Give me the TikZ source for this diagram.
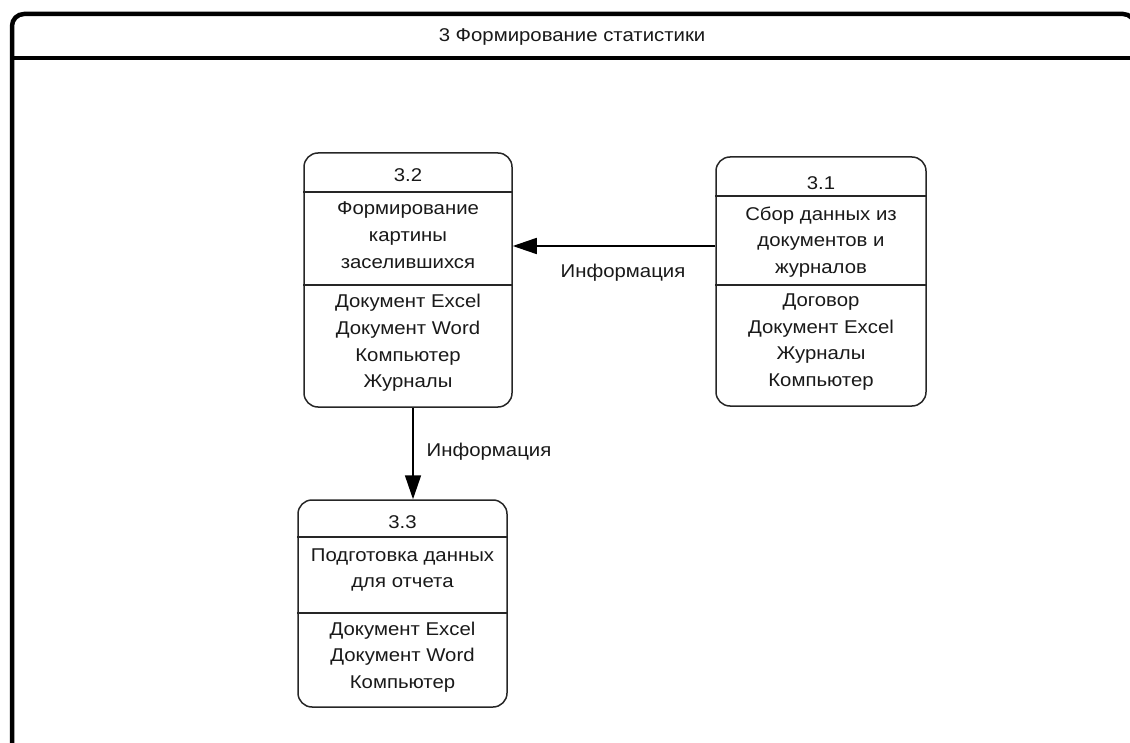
\documentclass[tikz,border=0pt]{standalone}
\usepackage{fontspec}
\setmainfont[FakeStretch=1.1]{Liberation Sans}
\usetikzlibrary{arrows.meta}
\begin{document}
\begin{tikzpicture}[x=1pt,y=-1pt,
  every node/.style={font=\fontsize{18.5}{26.7}\selectfont, inner sep=0pt, text=black!90},
  procbox/.style={draw=black!85, line width=1.5pt, rounded corners=14pt, minimum width=#1},
  divider/.style={draw=black!85, line width=1.5pt},
  flow/.style={draw=black, line width=1.6pt, -{Triangle[length=24pt,width=16pt]}},
  txt/.style={align=center, anchor=center},
  frame/.style={draw=black, line width=4.5pt, rounded corners=12pt}
]
\useasboundingbox (0,0) rectangle (1130,743);

% outer frame with its title bar
\begin{scope}
\clip (0,0) rectangle (1130,743);
\draw[frame] (12,800) -- (12,14) -- (1135,14) -- (1135,800);
\draw[draw=black, line width=4.5pt] (12,58) -- (1135,58);
\end{scope}
\node[txt] (title) at (572,37) {3 Формирование статистики};

% process 3.2
\node[procbox=208pt, minimum height=254pt] (b32) at (408,280) {};
\draw[divider] (b32.west |- 0,192) -- (b32.east |- 0,192);
\draw[divider] (b32.west |- 0,285) -- (b32.east |- 0,285);
\node[txt] (n32) at (408,175) {3.2};
\node[txt] (m32) at (408,235) {Формирование\\картины\\заселившихся};
\node[txt] (r32) at (408,343) {Документ Excel\\Документ Word\\Компьютер\\Журналы};

% process 3.1
\node[procbox=210pt, minimum height=249pt] (b31) at (821,281.5) {};
\draw[divider] (b31.west |- 0,196) -- (b31.east |- 0,196);
\draw[divider] (b31.west |- 0,285) -- (b31.east |- 0,285);
\node[txt] (n31) at (821,183) {3.1};
\node[txt] (m31) at (821,242) {Сбор данных из\\документов и\\журналов};
\node[txt] (r31) at (821,342) {Договор\\Документ Excel\\Журналы\\Компьютер};

% process 3.3
\node[procbox=209pt, minimum height=207pt] (b33) at (402.5,603.5) {};
\draw[divider] (b33.west |- 0,537) -- (b33.east |- 0,537);
\draw[divider] (b33.west |- 0,613) -- (b33.east |- 0,613);
\node[txt] (n33) at (402.5,522) {3.3};
\node[txt] (m33) at (402.5,570) {Подготовка данных\\для отчета};
\node[txt] (r33) at (402.5,657) {Документ Excel\\Документ Word\\Компьютер};

% data flows
\draw[flow] (b31.west |- 0,246) -- (b32.east |- 0,246);
\node[txt] (l1) at (623,273) {Информация};
\draw[flow] (b32.south -| 413,0) -- (b33.north -| 413,0);
\node[txt] (l2) at (489,452) {Информация};
\end{tikzpicture}
\end{document}
